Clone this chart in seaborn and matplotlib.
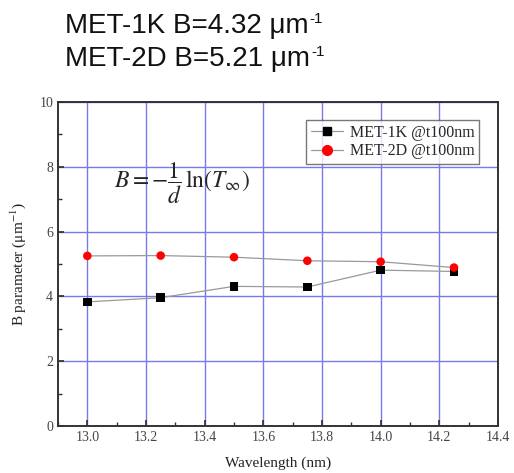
import matplotlib
matplotlib.use("Agg")
import matplotlib.pyplot as plt
import seaborn as sns
import pandas as pd
from matplotlib.ticker import MultipleLocator
from matplotlib.lines import Line2D

wavelength = [13.0, 13.25, 13.5, 13.75, 14.0, 14.25]
met1k = [3.83, 3.96, 4.31, 4.29, 4.81, 4.77]
met2d = [5.25, 5.26, 5.21, 5.10, 5.07, 4.89]
series_names = ["MET-1K @t100nm", "MET-2D @t100nm"]
title_lines = ["MET-1K B=4.32 μm", "MET-2D B=5.21 μm"]
title_sup = "-1"

sns.set_theme(style="white")
plt.rcParams["font.family"] = ["Liberation Serif", "DejaVu Serif"]
plt.rcParams["mathtext.fontset"] = "stix"

df = pd.concat([
    pd.DataFrame({"x": wavelength, "y": met1k, "s": series_names[0]}),
    pd.DataFrame({"x": wavelength, "y": met2d, "s": series_names[1]}),
])

fig = plt.figure(figsize=(5.14, 4.73), dpi=100)
ax = fig.add_axes([58/514, 1-426/473, 440/514, 324/473])

ax.set_xlim(12.9, 14.4)
ax.set_ylim(0, 10)
ax.xaxis.set_major_locator(MultipleLocator(0.2))
ax.xaxis.set_minor_locator(MultipleLocator(0.1))
ax.yaxis.set_major_locator(MultipleLocator(2))
ax.yaxis.set_minor_locator(MultipleLocator(1))
ax.grid(True, which="major", color="#7777ee", linewidth=1.0)
ax.set_axisbelow(True)

# gray connecting lines
sns.lineplot(data=df, x="x", y="y", units="s", estimator=None, color="#999999",
             linewidth=0.9, ax=ax, legend=False, zorder=2)
sns.scatterplot(data=df, x="x", y="y", hue="s", style="s",
                palette={series_names[0]: "black", series_names[1]: "red"},
                markers={series_names[0]: "s", series_names[1]: "o"},
                s=38, linewidth=0, ax=ax, legend=False, zorder=3)

handles = [Line2D([0], [0], color="#999999", marker="s", markerfacecolor="black",
                  markeredgecolor="black", markersize=6, linewidth=0.9),
           Line2D([0], [0], color="#999999", marker="o", markerfacecolor="red",
                  markeredgecolor="red", markersize=7, linewidth=0.9)]
leg = ax.legend(handles, series_names, loc="upper right", bbox_to_anchor=(0.957, 0.944),
                borderaxespad=0, fontsize=11.5, frameon=True, fancybox=False, edgecolor="#555555",
                handlelength=2.0, borderpad=0.3, labelspacing=0.15, handletextpad=0.4)
leg.get_frame().set_linewidth(1.0)

ax.text(13.09, 7.5, r"$B=-\dfrac{1}{d}\,\ln\!\left(T_\infty\right)$", fontsize=17,
        ha="left", va="center")

for sp in ax.spines.values():
    sp.set_color("#333333")
    sp.set_linewidth(1.4)
ax.tick_params(which="both", direction="in", color="#333333", labelsize=10,
               labelcolor="#444444", left=True, bottom=True)
ax.tick_params(which="major", length=4)
ax.tick_params(which="minor", length=3)
ax.set_xticklabels([f"{v:.1f}" for v in ax.get_xticks()])
ax.set_xlabel("Wavelength (nm)", fontsize=11, color="#222222", labelpad=9)
ax.set_ylabel("B parameter (μm$^{-1}$)", fontsize=11, color="#222222", labelpad=8)

for i, t in enumerate(title_lines):
    txt = fig.text(65/514, 1-(33+33*i)/473, t, fontsize=20,
                   family=["Liberation Sans", "DejaVu Sans"],
                   ha="left", va="baseline", color="#111111")
    fig.canvas.draw()
    bb = txt.get_window_extent()
    fig.text((bb.x1 + 1)/514, 1-(12+33*i)/473, title_sup, fontsize=11,
             family=["Liberation Sans", "DejaVu Sans"], ha="left", va="top", color="#111111")

fig.savefig("out.png", dpi=100)
